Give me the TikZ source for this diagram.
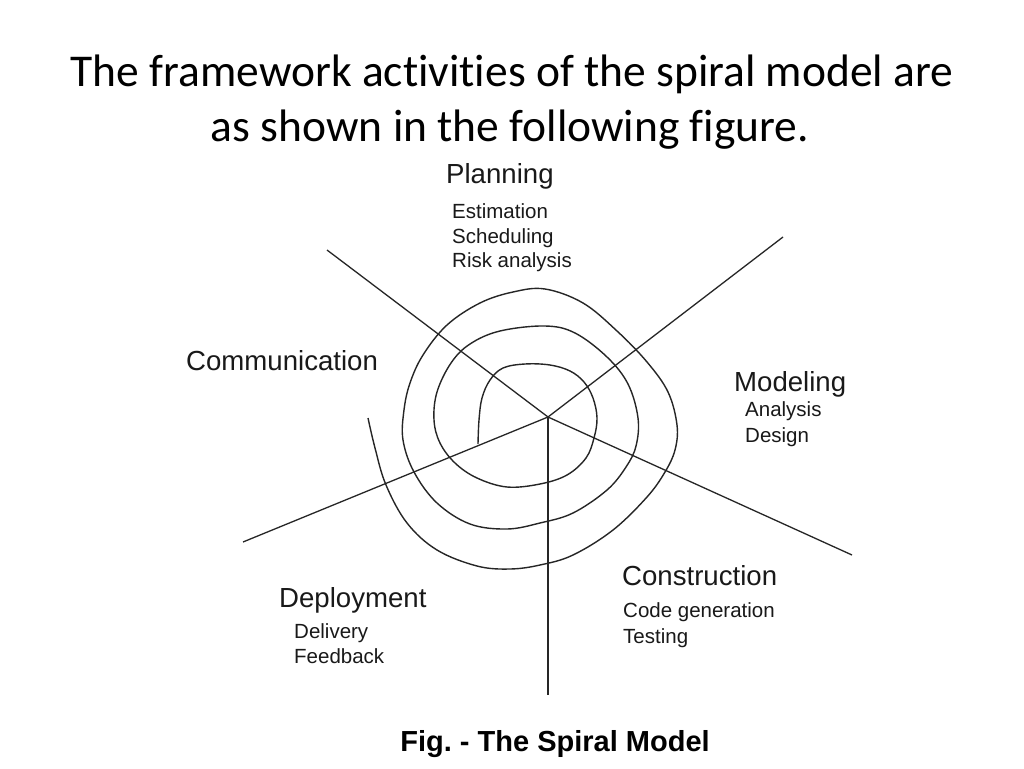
\documentclass[tikz,border=0pt]{standalone}
\usepackage{fontspec}
\setmainfont{Liberation Sans}
\newfontfamily\titlefont[Ligatures=NoCommon]{Carlito}
\begin{document}
\frenchspacing
\begin{tikzpicture}[x=1pt,y=-1pt,
  head/.style={font=\fontsize{27.6}{30}\selectfont, anchor=base west, inner sep=0pt, text=black!90},
  item/.style={font=\fontsize{20.5}{24}\selectfont, anchor=base west, inner sep=0pt, text=black!90},
  ray/.style={line width=1.3pt, black!85},
  spiralline/.style={line width=1.4pt, black!85, line join=round}]
\useasboundingbox (0,0) rectangle (1024,768);
\fill[white] (0,0) rectangle (1024,768);
% title
\node[font=\titlefont\fontsize{45.5}{54}\selectfont, anchor=base, inner sep=0pt] (t1) at (512,86) {The framework activities of the spiral model are};
\node[font=\titlefont\fontsize{45.5}{54}\selectfont, anchor=base, inner sep=0pt] (t2) at (510,141) {as shown in the following figure.};
% rays
\coordinate (c) at (548,417);
\coordinate (ul) at (327,250);
\coordinate (ur) at (783,237);
\coordinate (ll) at (243,542);
\coordinate (lr) at (852,555);
\coordinate (dn) at (548,695);
\draw[ray] (ul) -- (c) -- (lr);
\draw[ray] (ll) -- (c) -- (ur);
\draw[ray] (c) -- (dn);
% spiral
\draw[spiralline] plot[smooth, tension=0.6] coordinates {
 (478,444) (479,420) (482,398) (490,380) (503,368) (525,364) (550,365) (570,371) (584,382) (593,398) (597,418) (594,438) (586,458) (567,475) (540,484) (507,487) (477,478) (455,463) (440,443) (434,420) (437,392) (451,363) (470,344) (500,331) (545,326) (575,333) (607,357) (628,384) (638,418) (636,446) (626,467) (607,490) (573,513) (540,523) (507,529) (470,524) (437,503) (414,472) (403,440) (404,410) (410,383) (423,355) (447,325) (480,303) (513,292) (545,289) (583,303) (617,331) (647,362) (668,392) (677,425) (675,450) (665,472) (647,497) (613,530) (573,555) (540,565) (510,569) (477,566) (437,550) (407,523) (386,485) (375,448) (368,418)};
% labels
\node[head] (plan) at (446,183) {Planning};
\node[item] (est) at (452,218) {Estimation};
\node[item] (sch) at (452,243) {Scheduling};
\node[item] (risk) at (452,267) {Risk analysis};
\node[head] (comm) at (186,370) {Communication};
\node[head] (model) at (734,391) {Modeling};
\node[item] (ana) at (745,416) {Analysis};
\node[item] (des) at (745,442) {Design};
\node[head] (cons) at (622,585) {Construction};
\node[item] (code) at (623,617) {Code generation};
\node[item] (test) at (623,643) {Testing};
\node[head] (dep) at (279,607) {Deployment};
\node[item] (del) at (294,638) {Delivery};
\node[item] (feed) at (294,663) {Feedback};
\node[font=\bfseries\fontsize{29}{32}\selectfont, anchor=base, inner sep=0pt] (cap) at (555,751) {Fig. - The Spiral Model};
\end{tikzpicture}
\end{document}
